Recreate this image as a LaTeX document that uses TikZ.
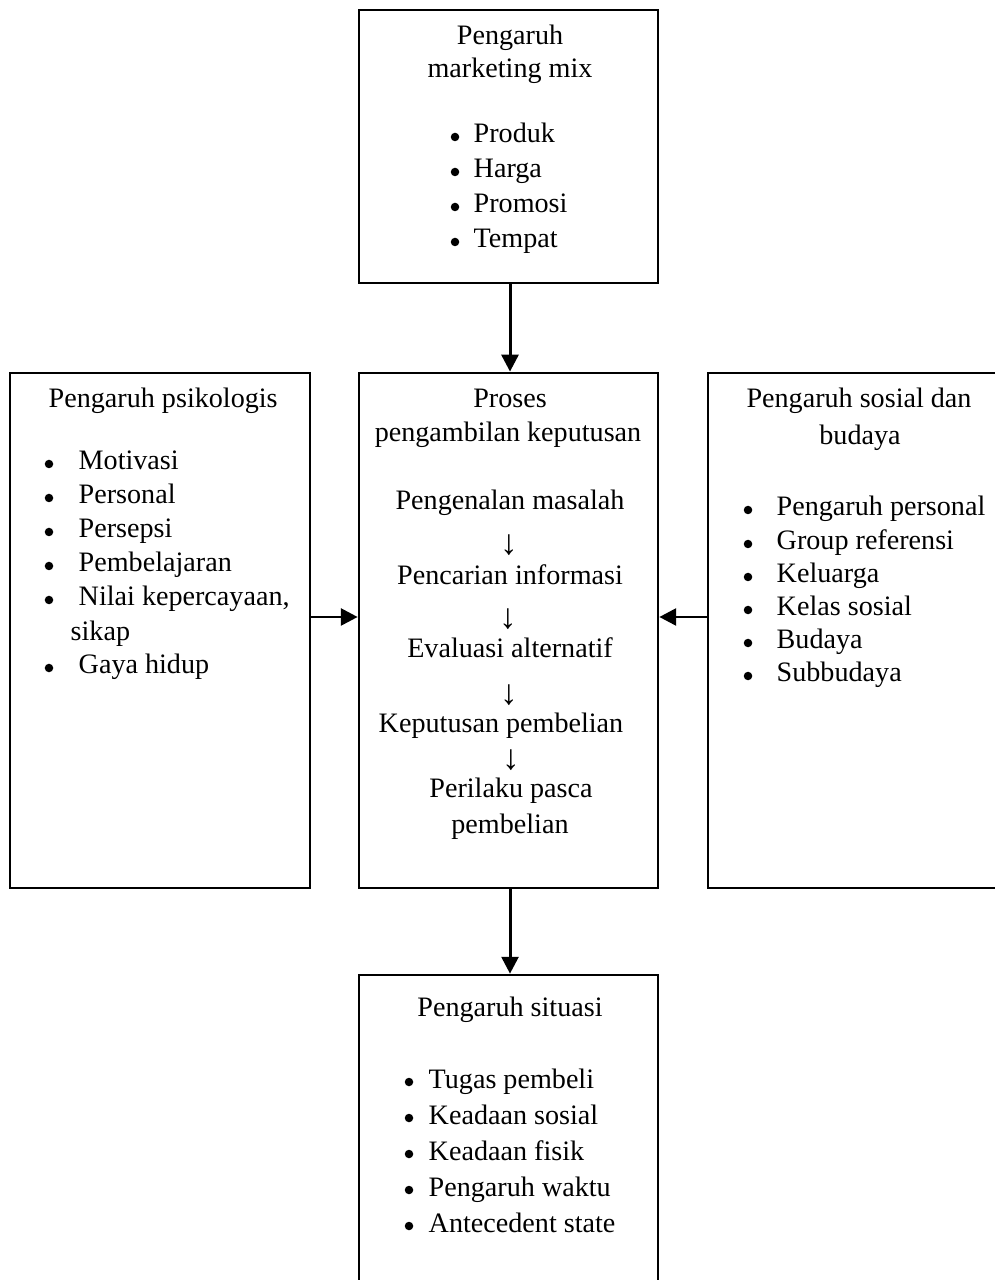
\documentclass[tikz,border=0pt]{standalone}
\usepackage{fontspec}
\setmainfont{Liberation Serif}
\usetikzlibrary{arrows.meta}
\tikzset{
  box/.style={draw=black, line width=0.7pt, fill=none, inner sep=0pt},
  txt/.style={inner sep=0pt, font=\fontsize{8pt}{10pt}\selectfont},
  dwn/.style={inner sep=0pt, font=\fontsize{10pt}{11pt}\selectfont},
  dot/.style={circle, fill=black, inner sep=0pt, minimum size=0.085cm},
  arr/.style={draw=black, line width=0.85pt, -{Triangle[length=4.8pt,width=4.8pt]}}
}
\begin{document}
\begin{tikzpicture}[x=0.01cm,y=-0.01cm]
\useasboundingbox (0,0) rectangle (995,1280);
\clip (0,0) rectangle (995,1280);
\fill[white] (0,0) rectangle (995,1280);
% boxes
\node[box, minimum width=2.99cm, minimum height=2.73cm] (top) at (508.5,146.5) {};
\node[box, minimum width=2.99cm, minimum height=5.15cm] (mid) at (508.5,630.5) {};
\node[box, minimum width=3.00cm, minimum height=5.15cm] (left) at (160,630.5) {};
\node[box, minimum width=3.10cm, minimum height=5.15cm] (right) at (863,630.5) {};
\node[box, minimum width=2.99cm, minimum height=3.45cm] (bot) at (508.5,1147.5) {};
% connectors
\coordinate (ax) at (510,0);
\coordinate (ay) at (0,617);
\draw[arr] (top.south -| ax) -- (mid.north -| ax);
\draw[arr] (mid.south -| ax) -- (bot.north -| ax);
\draw[arr] (left.east |- ay) -- (mid.west |- ay);
\draw[arr] (right.west |- ay) -- (mid.east |- ay);
% top box text
\node[txt, anchor=base] (t1) at (510,45) {Pengaruh};
\node[txt, anchor=base] (t2) at (510,78) {marketing mix};
\foreach \y/\t [count=\i] in {143/Produk,178/Harga,213/Promosi,248/Tempat}{
  \node[dot] (tb\i) at (455,\y-6) {};
  \node[txt, anchor=base west] (ti\i) at (473,\y) {\t};
}
% left box text
\node[txt, anchor=base west] (l1) at (48,408) {Pengaruh psikologis};
\foreach \y/\t [count=\i] in {470/Motivasi,504/Personal,538/Persepsi,572/Pembelajaran,606/{Nilai kepercayaan,},674/Gaya hidup}{
  \node[dot] (lb\i) at (49,\y-6) {};
  \node[txt, anchor=base west] (li\i) at (78,\y) {\t};
}
\node[txt, anchor=base west] (l2) at (70,640) {sikap};
% middle box text
\node[txt, anchor=base] (m1) at (510,408) {Proses};
\node[txt, anchor=base] (m2) at (508,442) {pengambilan keputusan};
\node[txt, anchor=base] (m3) at (510,510) {Pengenalan masalah};
\node[dwn] (ma1) at (509,545) {↓};
\node[txt, anchor=base] (m4) at (510,585) {Pencarian informasi};
\node[dwn] (ma2) at (508,619) {↓};
\node[txt, anchor=base] (m5) at (510,658) {Evaluasi alternatif};
\node[dwn] (ma3) at (509,695) {↓};
\node[txt, anchor=base] (m6) at (501,732) {Keputusan pembelian};
\node[dwn] (ma4) at (511,760) {↓};
\node[txt, anchor=base] (m7) at (511,797) {Perilaku pasca};
\node[txt, anchor=base] (m8) at (510,833) {pembelian};
% right box text
\node[txt, anchor=base] (r1) at (859,408) {Pengaruh sosial dan};
\node[txt, anchor=base] (r2) at (860,445) {budaya};
\foreach \y/\t [count=\i] in {516/Pengaruh personal,550/Group referensi,583/Keluarga,616/Kelas sosial,649/Budaya,682/Subbudaya}{
  \node[dot] (rb\i) at (748,\y-6) {};
  \node[txt, anchor=base west] (ri\i) at (776,\y) {\t};
}
% bottom box text
\node[txt, anchor=base] (b1) at (510,1016) {Pengaruh situasi};
\foreach \y/\t [count=\i] in {1088/Tugas pembeli,1124/Keadaan sosial,1160/Keadaan fisik,1196/Pengaruh waktu,1232/Antecedent state}{
  \node[dot] (bb\i) at (409,\y-6) {};
  \node[txt, anchor=base west] (bi\i) at (428,\y) {\t};
}
\end{tikzpicture}
\end{document}
